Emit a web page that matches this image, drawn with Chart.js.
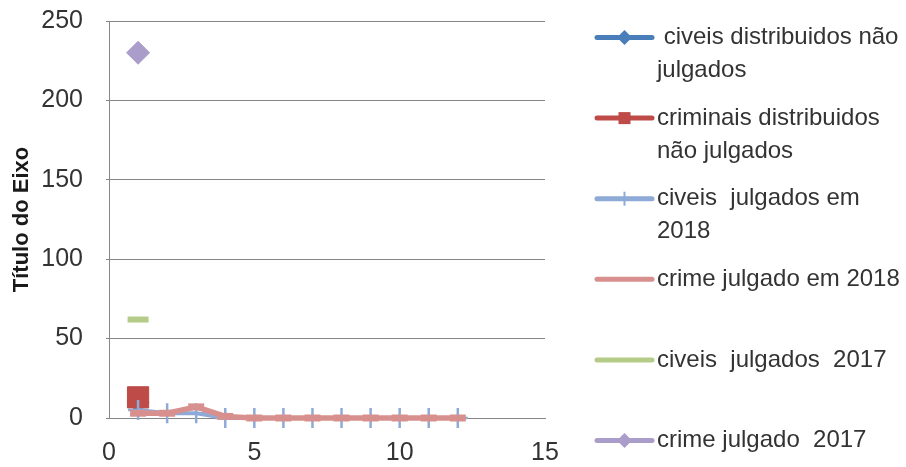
<!DOCTYPE html>
<html>
<head>
<meta charset="utf-8">
<title>Título do Eixo</title>
<script src="https://cdn.jsdelivr.net/npm/chart.js@4/dist/chart.umd.min.js"></script>
<style>
  html, body { margin: 0; padding: 0; background: #ffffff; }
  #wrap { width: 906px; height: 467px; }
</style>
</head>
<body>
<div id="wrap"><canvas id="chart" width="906" height="467"></canvas></div>
<script>
// X positions shared by the multi-point series
const xValues = [1, 2, 3, 4, 5, 6, 7, 8, 9, 10, 11, 12];

// Series values
const civeisDistribuidosNaoJulgados = [10];
const criminaisDistribuidosNaoJulgados = [13];
const civeisJulgados2018 = [5, 3, 3, 0, 0, 0, 0, 0, 0, 0, 0, 0];
const crimeJulgado2018 = [3, 3, 7, 1, 0, 0, 0, 0, 0, 0, 0, 0];
const civeisJulgados2017 = [62];
const crimeJulgado2017 = [230];

// Series names (one entry per legend line)
const seriesNames = [
  [' civeis distribuidos não', 'julgados'],
  ['criminais distribuidos', 'não julgados'],
  ['civeis  julgados em', '2018'],
  ['crime julgado em 2018'],
  ['civeis  julgados  2017'],
  ['crime julgado  2017']
];

// Axis ticks
const xTicks = [0, 5, 10, 15];
const yTicks = [0, 50, 100, 150, 200, 250];
const yAxisTitle = 'Título do Eixo';

const FONT = "'Liberation Sans', Arial, sans-serif";
const TEXT = '#333333';
const AXIS = '#868686';

const toPoints = vals => vals.map((v, i) => ({ x: xValues[i], y: v }));

// legend marker description per series
const legendMarks = [
  { style: 'diamond', size: 7.5, lw: 5 },
  { style: 'square', size: 6, lw: 5 },
  { style: 'cross', size: 7, lw: 5 },
  { style: 'none', size: 0, lw: 5 },
  { style: 'none', size: 0, lw: 5 },
  { style: 'diamond', size: 7.5, lw: 5 }
];

const colors = ['#4a7ebb', '#be4b48', '#8eaad6', '#d8908f', '#b4cc88', '#ab9dca'];

const datasets = [
  {
    label: seriesNames[0].join(' '),
    data: toPoints(civeisDistribuidosNaoJulgados),
    borderColor: colors[0], backgroundColor: colors[0],
    borderWidth: 4, pointStyle: 'rectRot', pointRadius: 11, pointBorderWidth: 1,
    order: 6
  },
  {
    label: seriesNames[1].join(' '),
    data: toPoints(criminaisDistribuidosNaoJulgados),
    borderColor: colors[1], backgroundColor: colors[1],
    borderWidth: 4, pointStyle: 'rect', pointRadius: 15, pointBorderWidth: 1,
    order: 5
  },
  {
    label: seriesNames[2].join(' '),
    data: toPoints(civeisJulgados2018),
    borderColor: colors[2], backgroundColor: colors[2],
    borderWidth: 4, pointStyle: 'cross', pointRadius: 10, pointBorderWidth: 2.5,
    order: 4
  },
  {
    label: seriesNames[3].join(' '),
    data: toPoints(crimeJulgado2018),
    borderColor: colors[3], backgroundColor: colors[3],
    borderWidth: 5.5, pointStyle: 'line', pointRadius: 8, pointBorderWidth: 7,
    order: 3
  },
  {
    label: seriesNames[4].join(' '),
    data: toPoints(civeisJulgados2017),
    borderColor: colors[4], backgroundColor: colors[4],
    borderWidth: 5, pointStyle: 'line', pointRadius: 10.5, pointBorderWidth: 6,
    order: 2
  },
  {
    label: seriesNames[5].join(' '),
    data: toPoints(crimeJulgado2017),
    borderColor: colors[5], backgroundColor: colors[5],
    borderWidth: 4, pointStyle: 'rectRot', pointRadius: 11.5, pointBorderWidth: 1,
    order: 1
  }
];

datasets.forEach(d => {
  d.showLine = true;
  d.tension = 0;
  d.clip = false;
  d.borderJoinStyle = 'round';
  d.pointHoverRadius = d.pointRadius;
});

// Legend drawn at the right side of the canvas
const sideLegend = {
  id: 'sideLegend',
  afterDraw(chart) {
    const ctx = chart.ctx;
    const lineX0 = 597, lineX1 = 652, textX = 657;
    const firstY = 37.5, step = 80.6, lineStep = 33;
    ctx.save();
    ctx.font = '24px ' + FONT;
    ctx.textBaseline = 'middle';
    ctx.textAlign = 'left';
    seriesNames.forEach((lines, i) => {
      const y = firstY + i * step;
      const c = colors[i];
      const m = legendMarks[i];
      ctx.strokeStyle = c;
      ctx.lineWidth = m.lw;
      ctx.lineCap = 'round';
      ctx.beginPath();
      ctx.moveTo(lineX0, y);
      ctx.lineTo(lineX1, y);
      ctx.stroke();
      const cx = (lineX0 + lineX1) / 2;
      ctx.fillStyle = c;
      if (m.style === 'diamond') {
        ctx.beginPath();
        ctx.moveTo(cx - m.size, y);
        ctx.lineTo(cx, y - m.size);
        ctx.lineTo(cx + m.size, y);
        ctx.lineTo(cx, y + m.size);
        ctx.closePath();
        ctx.fill();
      } else if (m.style === 'square') {
        ctx.fillRect(cx - m.size, y - m.size, m.size * 2, m.size * 2);
      } else if (m.style === 'cross') {
        ctx.lineWidth = 2;
        ctx.lineCap = 'butt';
        ctx.beginPath();
        ctx.moveTo(cx, y - m.size);
        ctx.lineTo(cx, y + m.size);
        ctx.stroke();
      }
      ctx.fillStyle = TEXT;
      lines.forEach((t, k) => ctx.fillText(t, textX, y + k * lineStep));
    });
    ctx.restore();
  }
};

new Chart(document.getElementById('chart'), {
  type: 'scatter',
  data: { datasets },
  plugins: [sideLegend],
  options: {
    responsive: false,
    animation: false,
    devicePixelRatio: 1,
    layout: { padding: { top: 21, right: 361, left: 0, bottom: 0 } },
    plugins: {
      legend: { display: false },
      tooltip: { enabled: false }
    },
    scales: {
      x: {
        type: 'linear',
        min: xTicks[0],
        max: xTicks[xTicks.length - 1],
        afterBuildTicks: s => { s.ticks = xTicks.map(v => ({ value: v })); },
        afterFit: s => { s.height = 49; s.paddingLeft = 0; s.paddingRight = 0; },
        grid: { display: false, drawTicks: false },
        border: { display: true, color: AXIS, width: 1 },
        ticks: { padding: 20, color: TEXT, font: { family: FONT, size: 25 }, maxRotation: 0 }
      },
      y: {
        type: 'linear',
        min: yTicks[0],
        max: yTicks[yTicks.length - 1],
        afterBuildTicks: s => { s.ticks = yTicks.map(v => ({ value: v })); },
        afterFit: s => { s.width = 109; s.paddingTop = 0; s.paddingBottom = 0; },
        grid: { color: AXIS, lineWidth: 1, drawTicks: true, tickLength: 3 },
        border: { display: true, color: AXIS, width: 1 },
        ticks: { padding: 23, color: TEXT, font: { family: FONT, size: 25 } },
        title: {
          display: true,
          text: yAxisTitle,
          color: '#1a1a1a',
          font: { family: FONT, size: 22, weight: 'bold' },
          padding: { top: 9, bottom: 0 }
        }
      }
    }
  }
});
</script>
</body>
</html>
